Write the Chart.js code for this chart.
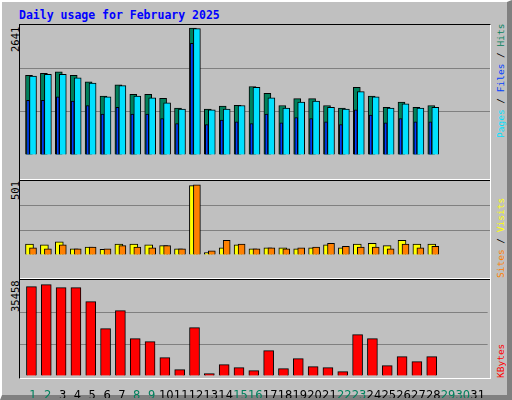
<!DOCTYPE html>
<html>
<head>
<meta charset="utf-8">
<script src="https://cdn.jsdelivr.net/npm/chart.js@4.4.1/dist/chart.umd.min.js"></script>
<style>
  body { margin: 0; }
  #wrap { position: relative; width: 512px; height: 400px; background: #c0c0c0; overflow: hidden; font-family: "DejaVu Sans Mono", monospace; }
  #bevel { position: absolute; left: 0; top: 0; width: 505px; height: 393px; border-left: 2px solid #fff; border-top: 2px solid #fff; border-right: 5px solid #808080; border-bottom: 5px solid #808080; box-sizing: content-box; }
  #frame { position: absolute; left: 19px; top: 24px; width: 472px; height: 355px; border-left: 1px solid #000; border-top: 1px solid #000; border-right: 1px solid #fff; border-bottom: 1px solid #fff; box-sizing: border-box; }
  .sep { position: absolute; left: 20px; width: 470px; height: 1px; }
  canvas { position: absolute; }
  #title { position: absolute; left: 19px; top: 8px; color: #0000ff; font-weight: bold; font-size: 11.5px; white-space: nowrap; }
  .vlab { position: absolute; transform-origin: 0 0; transform: rotate(-90deg); white-space: nowrap; font-size: 9.5px; line-height: 10px; }
  .vnum { font-size: 10.5px; line-height: 10px; }
</style>
</head>
<body>
<div id="wrap">
  <div id="bevel"></div>
  <div id="frame"></div>
  <div class="sep" style="top:179px;background:#fff"></div>
  <div class="sep" style="top:180px;background:#000"></div>
  <div class="sep" style="top:278px;background:#fff"></div>
  <div class="sep" style="top:279px;background:#000"></div>
  <div id="title">Daily usage for February 2025</div>
  <div class="vlab vnum" style="left:10px;top:52px;color:#000">2641</div>
  <div class="vlab vnum" style="left:10px;top:200px;color:#000">501</div>
  <div class="vlab vnum" style="left:10px;top:312px;color:#000">35458</div>
  <div class="vlab" style="left:496px;top:138px"><span style="color:#00e0ff">Pages</span> / <span style="color:#0040ff">Files</span> / <span style="color:#00805c">Hits</span></div>
  <div class="vlab" style="left:496px;top:278px"><span style="color:#ff8000">Sites</span> / <span style="color:#ffff00">Visits</span></div>
  <div class="vlab" style="left:496px;top:378px;color:#ff0000">KBytes</div>
  <canvas id="c1" style="left:20px;top:25px"></canvas>
  <canvas id="c2" style="left:20px;top:181px"></canvas>
  <canvas id="c3" style="left:20px;top:280px"></canvas>
</div>
<script>
const dayLabels = Array.from({ length: 31 }, (_, i) => i + 1);
const weekendDays = [1, 2, 8, 9, 15, 16, 22, 23, 29, 30];

const hits = [1659, 1701, 1731, 1659, 1521, 1228, 1461, 1264, 1264, 1180, 976, 2641, 958, 1018, 1036, 1425, 1281, 1030, 1173, 1173, 1030, 976, 1407, 1228, 994, 1101, 994, 1030];
const pages = [1640, 1677, 1677, 1605, 1497, 1210, 1443, 1228, 1192, 1084, 958, 2629, 940, 958, 1030, 1407, 1192, 976, 1101, 1120, 994, 958, 1318, 1210, 976, 1066, 976, 994];
const files = [1138, 1138, 1210, 1120, 1030, 850, 994, 850, 850, 760, 653, 2324, 635, 725, 689, 653, 850, 671, 779, 760, 689, 635, 940, 833, 671, 760, 689, 689];
const visits = [78, 72, 94, 45, 56, 40, 78, 78, 72, 67, 45, 496, 18, 51, 72, 45, 51, 51, 45, 51, 72, 51, 78, 83, 67, 105, 78, 78];
const sites = [51, 45, 72, 45, 56, 45, 67, 56, 51, 67, 45, 501, 29, 105, 78, 45, 51, 45, 51, 56, 83, 62, 56, 56, 45, 78, 51, 62];
const kbytes = [34680, 35458, 34292, 34292, 28856, 18375, 25362, 14493, 13328, 7117, 2459, 18763, 906, 4400, 3235, 2070, 9834, 2847, 6729, 3623, 3235, 1682, 16046, 14493, 4011, 7505, 5564, 7505];

// pixel layout of the day slots (14.9px per day, day 1 centred 13px from the frame edge)
const PX = 14.9;
const xMin = 1 - 13 / PX;
const xMax = 1 + 457 / PX;

function pts(values, shiftPx) {
  return values.map((v, i) => ({ x: i + 1 + shiftPx / PX, y: v }));
}

function bar(label, values, shiftPx, color, thick) {
  return { label, data: pts(values, shiftPx), backgroundColor: color, borderColor: "#000", borderWidth: 1, borderSkipped: "bottom", barThickness: thick, grouped: false };
}

function makeChart(id, w, h, datasets, yMax, showX) {
  const cv = document.getElementById(id);
  cv.width = w;
  cv.height = h;
  cv.style.width = w + "px";
  cv.style.height = h + "px";
  return new Chart(cv, {
    type: "bar",
    data: { datasets },
    options: {
      responsive: false,
      animation: false,
      devicePixelRatio: 1,
      layout: { padding: 0 },
      plugins: { legend: { display: false }, tooltip: { enabled: false } },
      scales: {
        x: {
          type: "linear",
          min: xMin,
          max: xMax,
          display: showX,
          offset: false,
          grid: { display: false },
          border: { display: false },
          afterBuildTicks: (s) => { s.ticks = dayLabels.map((d) => ({ value: d })); },
          afterFit: (s) => { s.height = 22; },
          ticks: {
            padding: 5,
            autoSkip: false,
            maxRotation: 0,
            font: { family: "DejaVu Sans", size: 11.5 },
            color: (ctx) => (weekendDays.includes(ctx.tick.value) ? "#00805c" : "#000"),
            callback: (v) => String(v),
          },
        },
        y: {
          min: 0,
          max: yMax,
          afterBuildTicks: (s) => { s.ticks = [0, yMax / 3, (2 * yMax) / 3, yMax].map((v) => ({ value: v })); },
          afterFit: (s) => { s.width = 0; },
          ticks: { display: false },
          border: { display: false },
          grid: { drawTicks: false, color: (ctx) => (ctx.index === 1 || ctx.index === 2 ? "#808080" : "rgba(0,0,0,0)") },
        },
      },
    },
  });
}

makeChart("c1", 470, 152, [
  bar("Files", files, -5, "#0040ff", 3),
  bar("Pages", pages, 0, "#00e0ff", 7),
  bar("Hits", hits, -4, "#00805c", 7),
], 2641 * 151 / 147.4, false);

makeChart("c2", 470, 96, [
  bar("Sites", sites, 0, "#ff8000", 7),
  bar("Visits", visits, -3.5, "#ffff00", 8),
], 501 * 97.5 / 92.3, false);

makeChart("c3", 470, 118, [
  bar("KBytes", kbytes, -1.5, "#ff0000", 10),
], 35458 * 96 / 91.3, true);
</script>
</body>
</html>
